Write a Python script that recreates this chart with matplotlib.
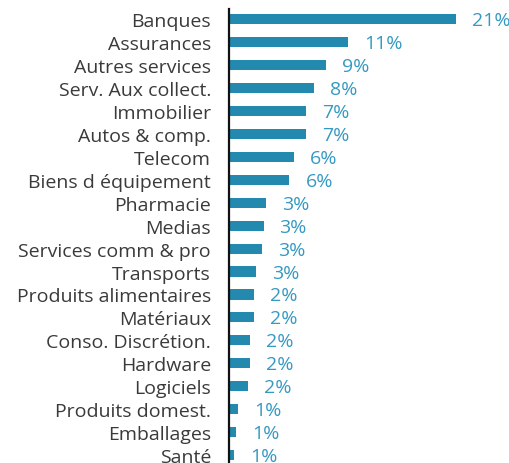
import matplotlib
import matplotlib.pyplot as plt
from matplotlib.transforms import offset_copy

matplotlib.rcParams.update({"font.family": ["Open Sans", "DejaVu Sans"], "font.size": 14})

sectors = [
    "Banques", "Assurances", "Autres services", "Serv. Aux collect.",
    "Immobilier", "Autos & comp.", "Telecom", "Biens d équipement",
    "Pharmacie", "Medias", "Services comm & pro", "Transports",
    "Produits alimentaires", "Matériaux", "Conso. Discrétion.", "Hardware",
    "Logiciels", "Produits domest.", "Emballages", "Santé",
]
weights = [21.0, 11.0, 9.0, 7.9, 7.1, 7.1, 6.0, 5.6, 3.4, 3.2,
           3.05, 2.5, 2.3, 2.3, 1.95, 1.95, 1.75, 0.85, 0.65, 0.5]
labels = ["21%", "11%", "9%", "8%", "7%", "7%", "6%", "6%", "3%", "3%",
          "3%", "3%", "2%", "2%", "2%", "2%", "2%", "1%", "1%", "1%"]

BAR_COLOR = "#2389ae"
TEXT_BLUE = "#3599c2"

fig = plt.figure(figsize=(5.1, 4.64), dpi=100)
ax = fig.add_axes([229 / 510, 0, 1 - 229 / 510, 454 / 464])

y = list(range(len(sectors)))
ax.barh(y, weights, height=0.44, color=BAR_COLOR)
ax.set_ylim(19.35, -0.45)
ax.set_xlim(0, 281 / 10.8)

ax.set_yticks(y, sectors, color="#3a3a3a")
ax.tick_params(axis="y", length=0, pad=13)
ax.set_xticks([])
for side in ["top", "right", "bottom"]:
    ax.spines[side].set_visible(False)
ax.spines["left"].set_linewidth(1.6)
ax.spines["left"].set_color("#111111")

trans = offset_copy(ax.transData, fig=fig, x=16, y=-1, units="dots")
for yi, w, lab in zip(y, weights, labels):
    ax.text(w, yi, lab, transform=trans, color=TEXT_BLUE,
            va="center", ha="left", fontsize=14, clip_on=False)

fig.savefig("out.png", dpi=100)
